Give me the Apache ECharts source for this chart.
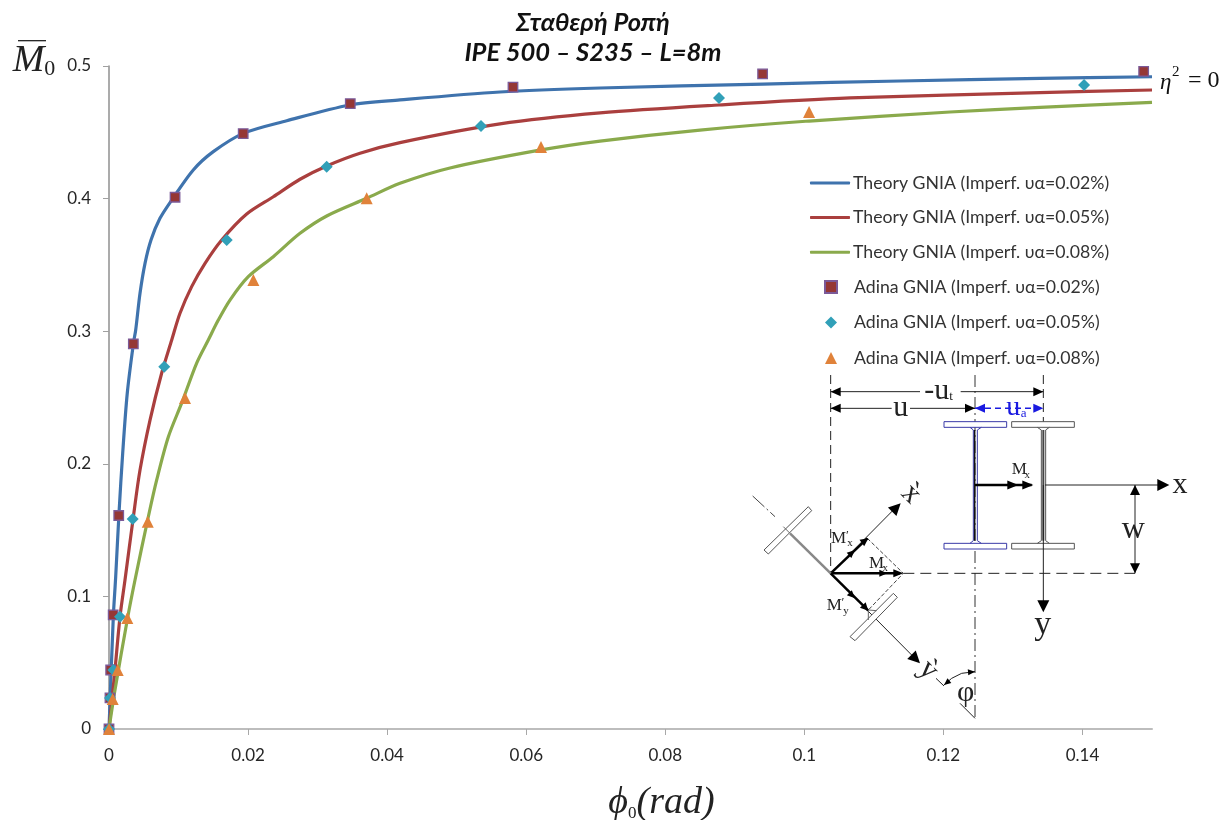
<!DOCTYPE html>
<html><head><meta charset="utf-8">
<style>html,body{margin:0;padding:0;background:#fff}#c{width:1228px;height:820px}</style>
<script src="https://cdn.jsdelivr.net/npm/echarts@6/dist/echarts.min.js"></script></head>
<body><div id="c"></div>
<script>
const xTicks=[0,0.02,0.04,0.06,0.08,0.1,0.12,0.14];
const yTicks=[0,0.1,0.2,0.3,0.4,0.5];
const theory002=[[0,0],[0.00062,0.0845],[0.00096,0.1146],[0.00144,0.1629],[0.00197,0.2081],[0.00263,0.2534],[0.00352,0.2911],[0.00384,0.3009],[0.00446,0.3286],[0.00518,0.3512],[0.00604,0.3688],[0.00733,0.3851],[0.00902,0.3989],[0.01212,0.4216],[0.015,0.4354],[0.01932,0.4492],[0.02556,0.4587],[0.03466,0.4706],[0.04185,0.4744],[0.05623,0.4804],[0.07062,0.4834],[0.09406,0.4864],[0.11376,0.4887],[0.1339,0.4907],[0.15,0.4919]];
const theory005=[[0,0],[0.00086,0.0445],[0.00158,0.0845],[0.0023,0.1124],[0.0035,0.1599],[0.00446,0.1953],[0.0059,0.233],[0.00758,0.2685],[0.00902,0.2934],[0.01021,0.3135],[0.01189,0.3336],[0.01381,0.3512],[0.01621,0.3688],[0.0198,0.3884],[0.02363,0.4014],[0.02747,0.4146],[0.03131,0.4246],[0.0361,0.4342],[0.04185,0.4422],[0.05623,0.4563],[0.07062,0.4646],[0.08773,0.4706],[0.10657,0.4759],[0.1339,0.4799],[0.15,0.4819]];
const theory008=[[0,0],[0.00086,0.0294],[0.0027,0.0845],[0.00374,0.1124],[0.00565,0.1599],[0.00686,0.1878],[0.00853,0.2202],[0.01046,0.2459],[0.01261,0.276],[0.01428,0.2934],[0.01572,0.3084],[0.0174,0.3235],[0.02003,0.3411],[0.02363,0.3562],[0.02747,0.3738],[0.03131,0.3869],[0.03706,0.4002],[0.04185,0.4115],[0.04904,0.4231],[0.06213,0.4367],[0.07062,0.4434],[0.085,0.4517],[0.10068,0.4585],[0.12095,0.4653],[0.1339,0.4688],[0.15,0.4725]];
const adina002=[[0,0],[0.00014,0.0234],[0.00024,0.0445],[0.0006,0.086],[0.0014,0.161],[0.0035,0.2905],[0.0095,0.401],[0.0193,0.449],[0.0347,0.4716],[0.0581,0.484],[0.094,0.494],[0.1488,0.496]];
const adina005=[[0,0],[0.00014,0.0234],[0.00062,0.0445],[0.00158,0.0847],[0.00341,0.1584],[0.00795,0.2732],[0.01693,0.3688],[0.03131,0.4241],[0.0535,0.4548],[0.08773,0.4759],[0.14023,0.4857]];
const adina008=[[0,0],[0.00053,0.0226],[0.00125,0.0445],[0.00263,0.0837],[0.00557,0.1563],[0.01093,0.2496],[0.02076,0.3386],[0.03706,0.4002],[0.06213,0.4389],[0.10068,0.4653]];
const titleText='Σταθερή Ροπή\nIPE 500 – S235 – L=8m';
const names=['Theory GNIA (Imperf. υα=0.02%)','Theory GNIA (Imperf. υα=0.05%)','Theory GNIA (Imperf. υα=0.08%)','Adina GNIA (Imperf. υα=0.02%)','Adina GNIA (Imperf. υα=0.05%)','Adina GNIA (Imperf. υα=0.08%)'];

// ---- schematic drawn on top of the plot, in page pixels ----
const P=(X,Y)=>[740+X/3,370+Y/3];
const items=[];
const ink='#222', blue='#1a1ae0';
function ln(a,b,o={}){items.push({type:'line',silent:true,shape:{x1:P(...a)[0],y1:P(...a)[1],x2:P(...b)[0],y2:P(...b)[1]},style:{stroke:o.c||ink,lineWidth:o.w||1,lineDash:o.d||null}});}
function head(a,b,o={}){const p=P(...b),q=P(...a),t=Math.atan2(p[1]-q[1],p[0]-q[0]),s=o.s||11,h=o.h||4.5;
 items.push({type:'polygon',silent:true,shape:{points:[p,[p[0]-s*Math.cos(t)+h*Math.sin(t),p[1]-s*Math.sin(t)-h*Math.cos(t)],[p[0]-s*Math.cos(t)-h*Math.sin(t),p[1]-s*Math.sin(t)+h*Math.cos(t)]]},style:{fill:o.c||'#000'}});}
function poly(pts,o={}){items.push({type:'polyline',silent:true,shape:{points:pts.map(a=>P(...a))},style:{stroke:o.c||ink,lineWidth:o.w||1,fill:'none',lineDash:o.d||null}});}
function box(pts,o={}){items.push({type:'polygon',silent:true,shape:{points:pts.map(a=>P(...a))},style:{stroke:o.c||'#555',lineWidth:o.w||1,fill:o.f||'#fff'}});}
function tx(s,a,size,o={}){const p=P(...a);items.push({type:'text',silent:true,x:p[0],y:p[1],rotation:o.r||0,z:5,style:{text:s,font:`${o.st||''} ${size}px "Liberation Serif"`,fill:o.c||'#222',align:'center',verticalAlign:'middle'}});}
const dash=[9,5], dd=[12,4,2,4];
ln([272,15],[272,610],{d:dash});
ln([705,15],[705,1045],{d:dd,c:'#333'});
ln([910,15],[910,160],{d:dash});
ln([272,65],[540,65]);ln([662,65],[910,65]);head([330,65],[272,65],{s:10});head([850,65],[910,65],{s:10});
ln([272,115],[455,115]);ln([510,115],[705,115]);head([330,115],[272,115],{s:10});head([650,115],[705,115],{s:10});
ln([705,115],[910,115],{c:blue,w:1.5,d:[6,4]});head([760,115],[705,115],{c:blue,s:10});head([860,115],[910,115],{c:blue,s:10});
tx('-u',[590,62],30);tx('t',[633,80],13);tx('u',[482,115],30);tx('u',[820,113],28,{c:blue});tx('a',[851,130],13,{c:blue});
// I-sections
const bl='#3a3aa8';
box([[612,155],[800,155],[800,172],[612,172]],{c:bl});box([[612,520],[800,520],[800,537],[612,537]],{c:bl});
poly([[690,172],[700,180],[700,512],[690,520]],{c:bl});poly([[724,172],[712,180],[712,512],[724,520]],{c:bl});ln([704,180],[704,512],{c:'#111',w:1.5});
box([[815,155],[1003,155],[1003,172],[815,172]]);box([[815,520],[1003,520],[1003,537],[815,537]]);
poly([[892,172],[904,180],[904,512],[892,520]],{c:'#555'});poly([[928,172],[917,180],[917,512],[928,520]],{c:'#555'});ln([910,180],[910,512],{c:'#444',w:2});
// M_x at section
ln([705,345],[875,345],{w:2.5,c:'#000'});head([780,345],[835,345],{s:11});head([830,345],[880,345],{s:11});
tx('M',[838,300],17);tx('x',[862,314],11);
// axes
ln([915,345],[1260,345]);head([1200,345],[1288,345],{s:12,h:6});tx('x',[1320,345],30);
ln([910,345],[910,700]);head([910,650],[910,727],{s:12,h:6});tx('y',[908,765],34);
ln([1185,345],[1185,610]);head([1185,400],[1185,345],{s:10,h:5});head([1185,560],[1185,610],{s:10,h:5});tx('w',[1180,478],32);
ln([490,610],[1185,610],{d:[11,6]});
// rotated axes
ln([272,610],[460,420]);head([400,482],[482,400],{s:12,h:6});
ln([272,610],[515,855]);head([460,800],[540,880],{s:12,h:6});
ln([38,378],[105,440],{c:'#444',d:[16,3,2,3]});
poly([[382,505],[490,610],[385,720]],{c:'#444',d:[4,2]});
ln([272,610],[382,505],{w:2.5,c:'#000'});head([320,552],[385,505],{s:8,h:4});head([300,580],[345,540],{s:8,h:3.5});
ln([272,610],[480,610],{w:2.5,c:'#000'});head([400,610],[490,610],{s:10,h:4});head([380,610],[442,610],{s:8,h:3.5});
ln([272,610],[385,722],{w:2.5,c:'#000'});head([330,665],[385,722],{s:8,h:4});head([300,640],[345,685],{s:8,h:3.5});
// rotated sections
box([[72,540],[85,552],[215,422],[205,410]]);ln([130,470],[150,490],{c:'#666'});ln([150,490],[272,610],{c:'#888',w:2.5});
box([[330,800],[345,812],[472,682],[460,670]]);poly([[385,720],[410,722]],{c:'#666'});poly([[385,722],[385,750]],{c:'#666'});
tx('M',[296,505],17);tx('′',[322,497],13);tx('x',[330,519],11);
tx('M',[410,580],17);tx('x',[436,594],11);
tx('M',[283,706],17);tx('′',[309,698],13);tx('y',[318,722],11);
// x', y' letters
tx('x\u0300',[513,372],30,{r:-Math.PI/4});
tx('y\u0300',[565,900],30,{r:-Math.PI/4});
ln([588,925],[612,948]);
// angle
poly([[612,945],[635,925],[665,910],[705,905]],{c:'#222'});head([640,922],[612,945],{s:7,h:3});head([670,908],[705,905],{s:7,h:3});
tx('φ',[677,968],30);ln([660,1000],[705,1045]);
// M-bar overline
items.push({type:'line',silent:true,shape:{x1:18,y1:40.7,x2:46,y2:40.7},style:{stroke:'#111',lineWidth:1.2}});
// η² = 0 note
const note=(text,x,y,font)=>items.push({type:'text',silent:true,x,y,style:{text,font,fill:'#111',align:'left',verticalAlign:'middle'}});
note('η',1160,83,'italic 23px "Liberation Serif"');
note('2',1172,72,'15px "Liberation Serif"');
note('= 0',1188,81,'24px "Liberation Serif"');

const line=(name,data,color)=>({name,type:'line',data,smooth:0.3,showSymbol:false,symbol:'none',lineStyle:{color,width:3.2},itemStyle:{color},z:2,animation:false});
const pts=(name,data,symbol,size,color,border)=>({name,type:'scatter',data,symbol,symbolSize:size,itemStyle:{color,opacity:1,borderColor:border||color,borderWidth:border?1.3:0},z:4,animation:false});
const legendText=(pad)=>({fontFamily:'Lato, "Open Sans"',fontSize:17.7,lineHeight:20,color:'#333',padding:[0,0,0,pad]});

const chart=echarts.init(document.getElementById('c'),null,{renderer:'canvas'});
chart.setOption({
 animation:false,backgroundColor:'#fff',
 title:{text:titleText,left:588,top:3,textAlign:'center',textStyle:{fontFamily:'Lato, "Open Sans"',fontStyle:'italic',fontWeight:'bold',fontSize:25.5,lineHeight:30,color:'#111'}},
 grid:{left:109,right:76,top:66,bottom:91,outerBoundsMode:'none'},
 legend:[
  {orient:'vertical',left:805,top:168,itemWidth:40,itemHeight:3,itemGap:14.6,icon:'roundRect',data:names.slice(0,3),textStyle:legendText(-2),selectedMode:false},
  {orient:'vertical',left:819,top:272,itemWidth:12,itemHeight:12,itemGap:15.5,data:names.slice(3),textStyle:legendText(12),selectedMode:false}
 ],
 xAxis:{type:'value',min:0,max:0.15,
  name:'{p|ϕ}{s|0}{p|(rad)}',nameLocation:'middle',nameGap:55,
  nameTextStyle:{padding:[0,0,0,62],rich:{p:{fontFamily:'"Liberation Serif"',fontStyle:'italic',fontSize:38,color:'#222'},s:{fontFamily:'"Liberation Serif"',fontSize:17,color:'#222',verticalAlign:'bottom',padding:[16,0,0,0]}}},
  axisLine:{lineStyle:{color:'#bdbdbd',width:2}},
  axisTick:{show:true,length:6,customValues:xTicks,lineStyle:{color:'#a8a8a8',width:1}},
  axisLabel:{customValues:xTicks,margin:18,fontFamily:'Lato',fontSize:17,color:'#262626',formatter:v=>String(v)},
  splitLine:{show:false}},
 yAxis:{type:'value',min:0,max:0.5,interval:0.1,
  name:'{p|M}{s|0}',nameLocation:'end',nameGap:-14,
  nameTextStyle:{padding:[0,150,0,0],rich:{p:{fontFamily:'"Liberation Serif"',fontStyle:'italic',fontSize:38,color:'#222'},s:{fontFamily:'"Liberation Serif"',fontSize:22,color:'#222',verticalAlign:'bottom',padding:[16,0,0,0]}}},
  axisLine:{show:true,onZero:false,lineStyle:{color:'#8f8f8f',width:1.5}},
  axisTick:{show:true,length:6,lineStyle:{color:'#a0a0a0',width:1}},
  axisLabel:{margin:18,fontFamily:'Lato',fontSize:17,color:'#262626',formatter:v=>String(v)},
  splitLine:{show:false}},
 series:[
  line(names[0],theory002,'#3f73ad'),
  line(names[1],theory005,'#aa3f3e'),
  line(names[2],theory008,'#8aaa4c'),
  pts(names[3],adina002,'rect',9.5,'#953735','#7b5a99'),
  pts(names[4],adina005,'diamond',12,'#31a0b8'),
  pts(names[5],adina008,'triangle',12,'#e0823a')
 ],
 graphic:{elements:items}
});
</script></body></html>
